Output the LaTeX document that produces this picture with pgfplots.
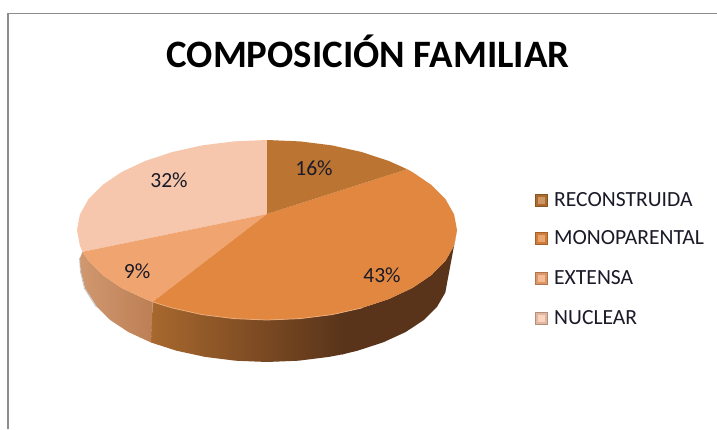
\documentclass[border=0pt]{standalone}
\usepackage{fontspec}
\setmainfont{Carlito}
\usepackage{pgfplots}
\pgfplotsset{compat=1.18}
\definecolor{cRec}{HTML}{BB7432}
\definecolor{cMono}{HTML}{E2873F}
\definecolor{cExt}{HTML}{F0A470}
\definecolor{cNuc}{HTML}{F6C6AD}
\definecolor{sideA}{HTML}{A8682E}
\definecolor{sideC}{HTML}{59341A}
\definecolor{sideD}{HTML}{D09870}
\definecolor{sideE}{HTML}{BD7F55}
\definecolor{txt}{HTML}{1A1A28}
\newcommand{\lab}{\fontsize{21.6}{23}\selectfont\color{txt}}
\pgfplotsset{
  key/.style={only marks, mark=square*, mark size=6pt, mark options={solid, fill=#1!92!black, draw=#1!72!black, line width=.6pt}},
  keyin/.style={only marks, mark=square*, mark size=2.6pt, mark options={solid, fill=#1!75!white, draw=#1!75!white, line width=.2pt}}}
\begin{document}
\begin{tikzpicture}
\begin{axis}[
  scale only axis, width=717pt, height=429pt,
  xmin=0, xmax=717, ymin=0, ymax=429, y dir=reverse,
  axis lines=none, axis background/.style={fill=white}]

% frame
\addplot[draw=black!45, line width=1.6pt] coordinates {(8,429)(8,13.5)(717,13.5)};

% side, monoparental: dark part, then the gradient
\addplot[draw=none, fill=sideC] coordinates {
  (457,230)(454.1,245.6)(445.5,260.8)(431.5,275)(412.5,287.9)(389.1,298.9)(362,307.9)(342,312.5)
  (342,354.5)(357.5,350.7)(383.3,342.3)(405.7,332)(423.8,320)(437.1,306.7)(445.3,292.6)(448,278)} --cycle;
\addplot[draw=none, left color=sideA, right color=sideC] coordinates {
  (343,312.5)(332,314.6)(300,318.6)(267,320)(234,318.6)(202,314.6)(172,307.9)(152.7,301.9)
  (151,342.5)(176.5,350.7)(205.1,356.9)(235.6,360.7)(267,362)(298.4,360.7)(328.9,356.9)(343,354.2)} --cycle;

% side, extensa
\addplot[draw=none, left color=sideD, right color=sideE] coordinates {
  (152.7,301.9)(144.9,298.9)(121.5,287.9)(102.5,275)(88.5,260.8)(82.6,251.8)
  (80,258)(81,272)(85,288)(96.9,306.7)(110.2,320)(128.3,332)(151,342.5)} --cycle;
% soft edge under the left of the side
\addplot[draw=black!25, line width=.7pt] coordinates {(79.5,258)(80.5,272)(84.5,288.5)(96.5,307.2)};

% top face
\addplot[draw=none, fill=cNuc] coordinates {
  (267,214)(82.6,251.8)(79.9,245.6)(77,230)(79.9,214.4)(88.5,199.2)(102.5,185)(121.5,172.1)
  (144.9,161.1)(172,152.1)(202,145.4)(234,141.4)(267,140)} --cycle;
\addplot[draw=none, fill=cExt] coordinates {
  (267,214)(152.7,301.9)(144.9,298.9)(121.5,287.9)(102.5,275)(88.5,260.8)(82.6,251.8)} --cycle;
\addplot[draw=none, fill=cMono] coordinates {
  (267,214)(407.1,169.2)(412.5,172.1)(431.5,185)(445.5,199.2)(454.1,214.4)(457,230)(454.1,245.6)
  (445.5,260.8)(431.5,275)(412.5,287.9)(389.1,298.9)(362,307.9)(332,314.6)(300,318.6)(267,320)
  (234,318.6)(202,314.6)(172,307.9)(152.7,301.9)} --cycle;
\addplot[draw=none, fill=cRec] coordinates {
  (267,214)(267,140)(300,141.4)(332,145.4)(362,152.1)(389.1,161.1)(407.1,169.2)} --cycle;

% light rim on the front edge
\addplot[draw=cMono!70!white, line width=.8pt] coordinates {
  (152.7,301.9)(172,307.9)(202,314.6)(234,318.6)(267,320)(300,318.6)(332,314.6)(362,307.9)};

% legend keys
\addplot[key=cRec] coordinates {(541,200)};
\addplot[keyin=cRec] coordinates {(541,200)};
\addplot[key=cMono] coordinates {(541,238)};
\addplot[keyin=cMono] coordinates {(541,238)};
\addplot[key=cExt] coordinates {(541,278)};
\addplot[keyin=cExt] coordinates {(541,278)};
\addplot[key=cNuc] coordinates {(541,318)};
\addplot[keyin=cNuc] coordinates {(541,318)};

\node[anchor=west, inner sep=0pt] at (axis cs:554,200) {\lab RECONSTRUIDA};
\node[anchor=west, inner sep=0pt] at (axis cs:554,238) {\lab MONOPARENTAL};
\node[anchor=west, inner sep=0pt] at (axis cs:554,278) {\lab EXTENSA};
\node[anchor=west, inner sep=0pt] at (axis cs:554,318) {\lab NUCLEAR};

\node at (axis cs:314,168) {\lab 16\%};
\node at (axis cs:382,275) {\lab 43\%};
\node at (axis cs:137,271) {\lab 9\%};
\node at (axis cs:169,180) {\lab 32\%};

\node at (axis cs:368,51) {\fontsize{38.8}{42}\selectfont\bfseries COMPOSICIÓN FAMILIAR};
\end{axis}
\end{tikzpicture}
\end{document}
